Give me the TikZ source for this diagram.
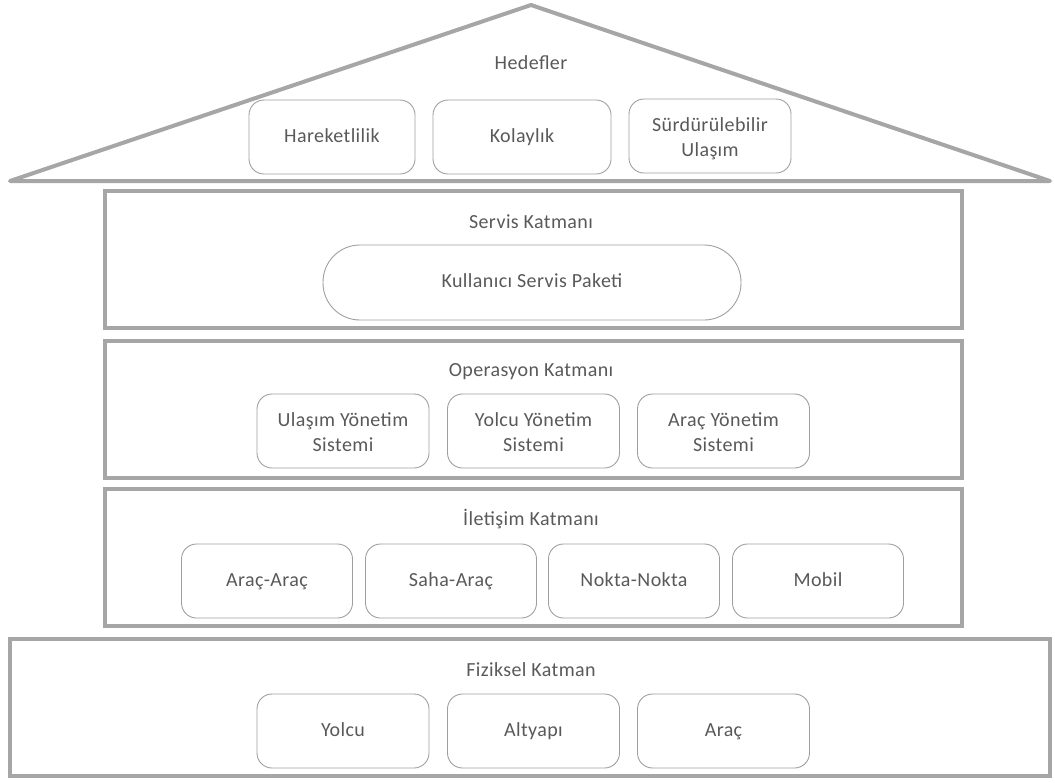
\documentclass[tikz,border=0pt]{standalone}
\usepackage{fontspec}
\setmainfont{Carlito}[LetterSpace=2]
\definecolor{framegray}{HTML}{A6A6A6}
\definecolor{boxgray}{HTML}{9F9F9F}
\definecolor{textgray}{HTML}{595959}
\newcommand{\twolines}[2]{\begin{tabular}{@{}c@{}}\rule{0pt}{23.5pt}#1\\#2\end{tabular}}

\tikzset{
  layer/.style={draw=framegray,line width=4pt,minimum width=857pt,minimum height=137pt,inner sep=0pt},
  item/.style={draw=boxgray,line width=0.9pt,rounded corners=15pt,minimum width=172pt,minimum height=74pt,
    text=textgray,font=\fontsize{20}{25}\selectfont,inner sep=2pt,
    execute at begin node={\strut},execute at end node={\strut}},
  title/.style={text=textgray,font=\fontsize{20}{25}\selectfont,inner sep=0pt,
    execute at begin node={\strut}}
}

\begin{document}
\begin{tikzpicture}[x=1pt,y=-1pt]
  \useasboundingbox (0,0) rectangle (1055,782);

  % roof
  \coordinate (roofL) at (10,181);
  \coordinate (roofT) at (531,5);
  \coordinate (roofR) at (1050,181);
  \draw[draw=framegray,line width=4pt,line join=round,line cap=round] (roofL) -- (roofT) -- (roofR) -- cycle;
  \node[title] (hedefler) at (531,64) {Hedefler};
  \node[item,minimum width=166pt] (hareket) at (332,137) {Hareketlilik};
  \node[item,minimum width=178pt] (kolay) at (522,137) {Kolaylık};
  \node[item,minimum width=162pt] (surdur) at (710,136) {\twolines{Sürdürülebilir}{Ulaşım}};

  % layers
  \node[layer] (servis) at (533.5,259.5) {};
  \node[layer] (operasyon) at (533.5,409) {};
  \node[layer] (iletisim) at (533.5,557.5) {};
  \node[layer,minimum width=1040pt] (fiziksel) at (530,707.5) {};

  \node[title] (servisT) at (531,223) {Servis Katmanı};
  \node[item,minimum width=418pt,minimum height=75pt,rounded corners=37pt] (paket) at (532,282.5) {Kullanıcı Servis Paketi};

  \node[title] (operasyonT) at (531,371) {Operasyon Katmanı};
  \node[item] (ulasim) at (343,431) {\twolines{Ulaşım Yönetim}{Sistemi}};
  \node[item] (yolcuY) at (533.5,431) {\twolines{Yolcu Yönetim}{Sistemi}};
  \node[item] (aracY) at (723.5,431) {\twolines{Araç Yönetim}{Sistemi}};

  \node[title] (iletisimT) at (531,520) {İletişim Katmanı};
  \node[item,minimum width=171pt] (aa) at (267,581) {Araç-Araç};
  \node[item,minimum width=171pt] (sa) at (451,581) {Saha-Araç};
  \node[item,minimum width=171pt] (nn) at (634,581) {Nokta-Nokta};
  \node[item,minimum width=171pt] (mobil) at (818,581) {Mobil};

  \node[title] (fizikselT) at (531,671) {Fiziksel Katman};
  \node[item] (yolcu) at (343,731) {Yolcu};
  \node[item] (altyapi) at (533.5,731) {Altyapı};
  \node[item] (arac) at (723.5,731) {Araç};
\end{tikzpicture}
\end{document}
